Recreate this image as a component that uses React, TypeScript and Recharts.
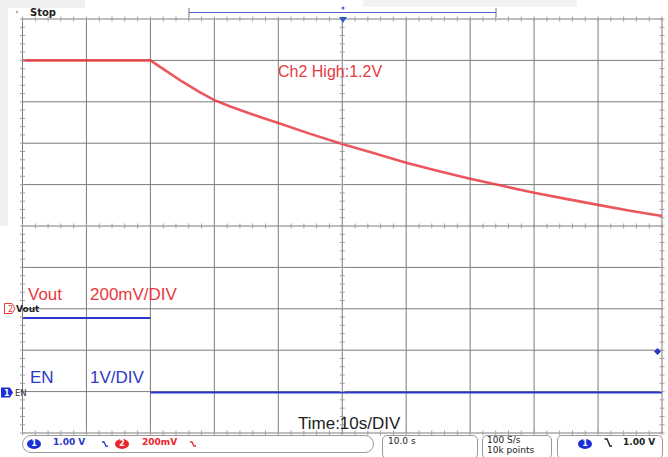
import React from 'react'
import {
  ComposedChart,
  Line,
  Scatter,
  XAxis,
  YAxis,
  CartesianGrid
} from 'recharts'

// scope screen: 10 s/div, trigger at centre
const timeTicks = [-50, -40, -30, -20, -10, 0, 10, 20, 30, 40, 50]
// Ch1 (EN) 1 V/div, ground marker one division up
const ch1Ticks = [-1, 0, 1, 2, 3, 4, 5, 6, 7, 8, 9]

// Ch2 = Vout, red trace (V)
const ch2Time = [-50, -30, -27.5, -25, -22.5, -20, -17.5, -15, -12.5, -10, -5, 0, 5, 10, 15, 20, 25, 30, 35, 40, 45, 50]
const ch2Volts = [1.2, 1.2, 1.148, 1.097, 1.05, 1.008, 0.977, 0.95, 0.923, 0.898, 0.845, 0.796, 0.751, 0.706, 0.666, 0.628, 0.594, 0.561, 0.531, 0.502, 0.474, 0.448]

// Ch1 = EN, blue trace (V); edge at -30 s is not drawn
const ch1Time = [-50, -30, -30, -30, 50]
const ch1Volts: (number | null)[] = [1.78, 1.78, null, -0.02, -0.02]

const ch2Data = ch2Time.map((t, i) => ({ t, v: ch2Volts[i] }))
const ch1Data = ch1Time.map((t, i) => ({ t, v: ch1Volts[i] }))

// minor graticule ticks (every 1/5 div) on border and centre lines
const minorT = Array.from({ length: 51 }, (_, i) => -50 + i * 2)
const minorV = Array.from({ length: 51 }, (_, i) => -1 + i * 0.2)
const hTicks = [9, 4, -1].flatMap((y) => minorT.map((t) => ({ t, y })))
const vTicks = [-50, 0, 50].flatMap((t) => minorV.map((y) => ({ t, y })))

const RED = '#e8393f'
const BLUE = '#2b38c8'
const GRID = '#7c7c7c'

const VTick = (p: any) => (
  <line x1={p.cx} x2={p.cx} y1={p.cy - 2.5} y2={p.cy + 2.5} stroke="#a0a0a0" strokeWidth={1} />
)
const HTick = (p: any) => (
  <line x1={p.cx - 2.5} x2={p.cx + 2.5} y1={p.cy} y2={p.cy} stroke="#a0a0a0" strokeWidth={1} />
)

const Squiggle = ({ color, left }: { color: string; left: number }) => (
  <svg width={8} height={8} style={{ position: 'absolute', left, top: 440 }}>
    <path d="M1 2 L3 2 L5 6 L7 6" stroke={color} strokeWidth={1.3} fill="none" />
  </svg>
)

const Badge = ({ n, bg, left }: { n: string; bg: string; left: number }) => (
  <div
    style={{
      position: 'absolute',
      left,
      top: 439,
      width: 14,
      height: 10,
      borderRadius: '50%',
      background: bg,
      color: '#fff',
      fontFamily: '"DejaVu Sans", sans-serif',
      fontSize: 8,
      lineHeight: '10px',
      textAlign: 'center',
      fontWeight: 'bold'
    }}
  >
    {n}
  </div>
)

const box: React.CSSProperties = {
  position: 'absolute',
  border: '1px solid #9a9a9a',
  borderRadius: 5,
  background: '#fff',
  boxSizing: 'border-box'
}

const abs = (left: number, top: number, extra: React.CSSProperties = {}): React.CSSProperties => ({
  position: 'absolute',
  left,
  top,
  whiteSpace: 'nowrap',
  ...extra
})

export default function App() {
  const label: React.CSSProperties = { fontFamily: '"Liberation Sans", Arial, sans-serif', fontSize: 17 }
  const status: React.CSSProperties = {
    fontFamily: '"DejaVu Sans", Verdana, sans-serif',
    fontSize: 9,
    fontWeight: 'bold'
  }
  return (
    <div style={{ position: 'absolute', left: 0, top: 0, width: 668, height: 457, background: '#fff', overflow: 'hidden' }}>
      {/* light frame bits from the screen grab */}
      <div style={abs(0, 0, { width: 85, height: 8, background: '#efefef' })} />
      <div style={abs(0, 0, { width: 8, height: 226, background: '#efefef' })} />
      <div style={abs(363, 0, { width: 214, height: 7, background: '#f2f2f2' })} />

      <ComposedChart
        width={668}
        height={457}
        margin={{ top: 19, right: 6, bottom: 24, left: 22.5 }}
        style={{ position: 'absolute', left: 0, top: 0 }}
      >
        <XAxis dataKey="t" type="number" domain={[-50, 50]} ticks={timeTicks} hide allowDuplicatedCategory={false} />
        <YAxis yAxisId="ch1" type="number" domain={[-1, 9]} ticks={ch1Ticks} hide />
        <YAxis yAxisId="ch2" type="number" domain={[-0.6, 1.4]} hide />
        <CartesianGrid yAxisId="ch1" stroke={GRID} strokeWidth={1} />
        <Scatter yAxisId="ch1" data={hTicks} dataKey="y" shape={VTick} isAnimationActive={false} />
        <Scatter yAxisId="ch1" data={vTicks} dataKey="y" shape={HTick} isAnimationActive={false} />
        <Line
          yAxisId="ch2"
          data={ch2Data}
          dataKey="v"
          type="linear"
          stroke={RED}
          strokeOpacity={0.85}
          strokeWidth={2.6}
          strokeLinejoin="round"
          dot={false}
          isAnimationActive={false}
        />
        <Line
          yAxisId="ch1"
          data={ch1Data}
          dataKey="v"
          type="linear"
          stroke={BLUE}
          strokeWidth={2}
          dot={false}
          connectNulls={false}
          isAnimationActive={false}
        />
      </ComposedChart>

      {/* overlay: markers and top bar */}
      <svg width={668} height={457} style={{ position: 'absolute', left: 0, top: 0, pointerEvents: 'none' }}>
        <circle cx={17} cy={12} r={1.2} fill="#aaa" />
        <text x={30} y={16} fontFamily='"DejaVu Sans", sans-serif' fontSize={10} fontWeight="bold" fill="#222">
          Stop
        </text>
        <line x1={189} x2={496} y1={12.5} y2={12.5} stroke="#5862c8" strokeWidth={1.2} />
        <line x1={189} x2={189} y1={8} y2={17} stroke="#777" strokeWidth={1} />
        <line x1={496} x2={496} y1={8} y2={17} stroke="#777" strokeWidth={1} />
        <circle cx={343} cy={8} r={1.5} fill="#4a6fd0" />
        <polygon points="339,17 347,17 343,23" fill="#2f5fc0" />

        {/* ch2 ground marker */}
        <polygon points="4.5,303.5 12,303.5 15,308.5 12,313.5 4.5,313.5" fill="#fff" stroke={RED} strokeWidth={1} />
        <text x={8} y={312} fontFamily='"DejaVu Sans", sans-serif' fontSize={8} fill={RED}>
          2
        </text>
        <text x={16} y={312} fontFamily='"DejaVu Sans", sans-serif' fontSize={9} fontWeight="bold" fill="#222">
          Vout
        </text>
        {/* ch1 ground marker */}
        <polygon points="1,387.5 10,387.5 13,392.5 10,397.5 1,397.5" fill="#1a2fd6" />
        <text x={4} y={396} fontFamily='"DejaVu Sans", sans-serif' fontSize={8} fontWeight="bold" fill="#fff">
          1
        </text>
        <text x={15} y={396} fontFamily='"DejaVu Sans", sans-serif' fontSize={8.5} fill="#333">
          EN
        </text>
        {/* trigger level */}
        <polygon points="654,351.5 657.5,348 661,351.5 657.5,355" fill="#2838c0" />
      </svg>

      {/* annotations */}
      <div style={abs(278, 63, { ...label, fontSize: 16, color: RED })}>Ch2 High:1.2V</div>
      <div style={abs(28, 285, { ...label, color: RED })}>Vout</div>
      <div style={abs(90, 285, { ...label, color: RED })}>200mV/DIV</div>
      <div style={abs(30, 368, { ...label, color: BLUE })}>EN</div>
      <div style={abs(90, 368, { ...label, color: BLUE })}>1V/DIV</div>
      <div style={abs(298, 414, { ...label, color: '#222' })}>Time:10s/DIV</div>

      {/* status bar */}
      <div style={{ ...box, left: 22, top: 435, width: 352, height: 18, borderRadius: 9 }} />
      <Badge n="1" bg="#1a2fd6" left={27} />
      <div style={abs(53, 437, { ...status, color: '#2b38c8' })}>1.00 V</div>
      <Squiggle color="#2b38c8" left={101} />
      <Badge n="2" bg="#e8262b" left={115} />
      <div style={abs(142, 437, { ...status, color: '#e8262b' })}>200mV</div>
      <Squiggle color="#e8262b" left={189} />

      <div style={{ ...box, left: 382, top: 435, width: 96, height: 24 }} />
      <div style={abs(388, 436, { ...status, fontWeight: 'normal', color: '#222' })}>10.0 s</div>

      <div style={{ ...box, left: 482, top: 435, width: 70, height: 24 }} />
      <div style={abs(487, 435, { ...status, fontWeight: 'normal', color: '#222', lineHeight: '10px' })}>
        100 S/s
        <br />
        10k points
      </div>

      <div style={{ ...box, left: 557, top: 435, width: 106, height: 24 }} />
      <Badge n="1" bg="#1a2fd6" left={578} />
      <svg width={8} height={9} style={{ position: 'absolute', left: 604, top: 438 }}>
        <path d="M0.5 1 L3 1 L6 8 L8 8" stroke="#222" strokeWidth={1.4} fill="none" />
      </svg>
      <div style={abs(623, 437, { ...status, color: '#222' })}>1.00 V</div>
    </div>
  )
}
